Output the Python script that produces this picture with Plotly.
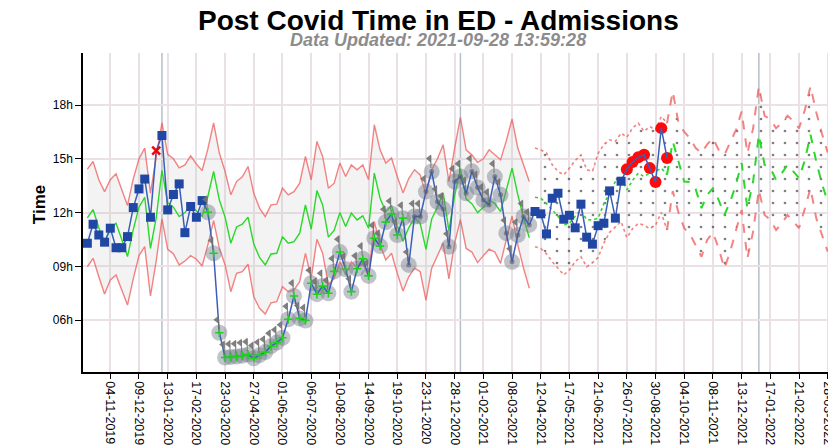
import pandas as pd
import plotly.graph_objects as go

# ---------------- data (hours) ----------------
start_week = "2019-10-07"
n_weeks = 130

actual = [
    10.29, 11.35, 10.75, 10.35, 11.13, 10.04, 10.04, 10.66, 12.28, 13.32,
    13.87, 11.74, 15.46, 16.30, 12.15, 13.01, 13.60, 10.88, 12.34, 11.74,
    12.67, 12.02, 9.73, 5.30, 3.92, 3.95, 3.97, 4.02, 4.08, 3.87,
    4.05, 4.22, 4.55, 4.75, 5.02, 6.05, 7.35, 6.10, 5.98, 8.06,
    7.45, 7.90, 7.50, 8.72, 9.80, 8.84, 7.59, 8.87, 9.42, 8.47,
    10.57, 10.13, 11.47, 11.93, 10.75, 11.69, 9.08, 11.78, 11.78, 13.17,
    14.29, 12.60, 12.20, 10.10, 13.73, 14.01, 13.08, 14.30, 13.40, 12.70,
    12.43, 14.01, 12.99, 10.85, 9.26, 10.75, 11.78, 11.31, 12.06, 11.93,
    10.81, 12.80, 13.08, 11.63, 11.85, 11.15, 12.47, 10.63, 10.24, 11.27,
    11.41, 13.21, 11.69, 13.75, 14.42, 14.82, 15.08, 15.22, 14.48, 13.70,
    16.71, 15.05]

# n = normal, x = flagged single, g = run (below), h = run (other), r = above limit
status = ("nnnnnnnnnnnnxnnnnnnnn"
          "ggggggggggggggggggggggggggggggggggg"
          "hhhhhhhhhhhhhhhhhhhhhh"
          "nnnnnnnnnnnnnnnn"
          "rrrrrrrr")

mean = [
    11.7, 12.17, 11.15, 10.35, 11.1, 11.4, 10.5, 9.55, 11.05, 12.3,
    12.85, 10.0, 11.7, 14.35, 12.55, 12.3, 11.78, 12.0, 12.4, 12.1,
    11.8, 12.9, 14.3, 12.7, 11.75, 10.29, 11.2, 11.35, 11.75, 10.25,
    9.5, 9.08, 9.69, 9.73, 10.65, 10.29, 10.38, 10.85, 12.43, 11.07,
    13.23, 12.43, 10.63, 11.0, 12.0, 11.22, 11.97, 11.59, 11.82, 11.13,
    14.2, 12.8, 12.05, 12.4, 11.3, 10.4, 11.15, 11.7, 11.4, 9.95,
    11.65, 12.3, 13.1, 11.0, 12.95, 14.45, 12.75, 12.5, 12.0, 12.3,
    12.7, 12.5, 12.05, 13.25, 14.48, 13.0, 11.7, 10.6,
    12.86, 12.8, 12.5, 12.15, 11.8, 11.3, 11.4, 11.8, 12.15, 11.6,
    11.59, 11.69, 12.5, 13.08, 13.73, 14.01, 13.27, 13.8, 14.2, 14.01,
    14.2, 14.3, 14.48, 14.11, 15.97, 14.85, 13.73, 13.7, 13.3, 12.25,
    12.99, 13.36, 12.7, 11.87, 12.6, 13.55, 14.76, 12.25, 13.73, 16.34,
    14.66, 14.48, 13.83, 14.2, 14.66, 14.3, 13.92, 14.9, 16.34, 14.85,
    13.6, 12.61]

upper = [
    14.42, 14.85, 13.83, 13.17, 13.83, 14.16, 13.27, 12.4, 13.88, 15.0,
    15.6, 13.08, 15.1, 17.0, 15.25, 15.0, 14.5, 14.66, 15.17, 14.7,
    14.35, 15.55, 17.0, 15.32, 14.29, 12.99, 13.73, 14.0, 14.57, 13.08,
    12.25, 11.78, 12.43, 12.47, 13.36, 12.99, 13.17, 13.64, 15.13, 13.83,
    15.97, 15.13, 13.36, 13.64, 14.76, 14.01, 14.66, 14.39, 14.66, 13.83,
    16.9, 15.5, 14.76, 15.04, 14.01, 13.1, 13.9, 14.39, 14.1, 13.0,
    14.39, 15.0, 15.78, 13.73, 15.6, 17.31, 15.5, 15.22, 14.8, 15.0,
    15.5, 15.2, 14.94, 16.0, 17.22, 15.6, 14.6, 13.73,
    15.6, 15.5, 15.32, 14.66, 14.3, 14.1, 14.48, 14.9, 15.22, 14.39,
    14.29, 15.3, 15.8, 16.06, 15.97, 16.43, 16.2, 16.71, 16.99, 16.53,
    16.8, 16.6, 17.36, 16.99, 18.76, 16.99, 16.5, 16.15, 15.6, 15.32,
    15.8, 16.15, 15.5, 15.22, 15.9, 16.6, 17.64, 15.3, 16.7, 19.04,
    17.4, 17.2, 16.7, 17.0, 17.4, 17.1, 16.7, 17.7, 19.04, 17.6,
    16.4, 15.35]

lower = [
    8.98, 9.45, 8.42, 7.46, 8.24, 8.52, 7.68, 6.84, 8.3, 9.6,
    10.1, 7.35, 9.3, 11.65, 9.95, 9.7, 9.08, 9.3, 9.6, 9.4,
    9.02, 10.2, 11.55, 10.01, 9.08, 7.59, 8.61, 8.7, 9.12, 7.31,
    6.66, 6.34, 6.97, 7.03, 7.87, 7.59, 7.68, 8.15, 9.73, 8.33,
    10.51, 9.73, 7.96, 8.33, 9.26, 8.52, 9.26, 8.89, 9.17, 8.42,
    11.5, 10.2, 9.36, 9.73, 8.61, 7.63, 8.42, 8.9, 8.7, 7.1,
    8.9, 9.6, 10.3, 8.3, 10.3, 11.6, 10.0, 9.8, 9.21, 9.6,
    9.96, 9.8, 9.17, 10.5, 11.8, 10.2, 8.9, 7.78,
    10.1, 10.0, 9.7, 9.26, 8.9, 8.52, 8.8, 9.26, 9.54, 8.98,
    9.2, 9.5, 10.3, 10.9, 11.2, 11.5, 10.6, 11.1, 11.4, 11.3,
    11.1, 11.3, 12.0, 11.03, 13.2, 12.0, 11.13, 10.8, 10.2, 9.54,
    10.47, 10.9, 10.0, 8.89, 9.82, 11.0, 12.15, 9.45, 10.94, 13.27,
    11.87, 11.6, 11.03, 11.4, 11.87, 11.5, 11.13, 12.2, 13.36, 11.69,
    10.7, 9.82]

history_end = 78      # weeks 0..77 use the historical limits
forecast_join = 101   # dotted -> dashed change-over

tick_labels = ["04-11-2019", "09-12-2019", "13-01-2020", "17-02-2020", "23-03-2020",
               "27-04-2020", "01-06-2020", "06-07-2020", "10-08-2020", "14-09-2020",
               "19-10-2020", "23-11-2020", "28-12-2020", "01-02-2021", "08-03-2021",
               "12-04-2021", "17-05-2021", "21-06-2021", "26-07-2021", "30-08-2021",
               "04-10-2021", "08-11-2021", "13-12-2021", "17-01-2022", "21-02-2022",
               "28-03-2022"]
y_ticks = [6, 9, 12, 15, 18]
y_tick_labels = ["06h", "09h", "12h", "15h", "18h"]
year_markers = ["2020-01-06", "2021-01-04", "2022-01-03"]

title_text = "Post Covid Time in ED - Admissions"
subtitle_text = "Data Updated: 2021-09-28 13:59:28"

# ---------------- build ----------------
weeks = pd.date_range(start_week, periods=n_weeks, freq="7D")
wa = weeks[:len(actual)]
tick_vals = pd.to_datetime(tick_labels, format="%d-%m-%Y")

RED = "rgba(240,90,90,0.75)"
GREEN = "#2ad82a"
FONT = "Liberation Sans"

def sel(codes):
    idx = [i for i, c in enumerate(status) if c in codes]
    return [wa[i] for i in idx], [actual[i] for i in idx]

fig = go.Figure()
h = slice(0, history_end)
f = slice(history_end, n_weeks)
fd = slice(history_end, forecast_join + 1)
fs = slice(forecast_join, n_weeks)

# grey control band
fig.add_trace(go.Scatter(x=weeks[h], y=lower[h], mode="lines", line=dict(width=0)))
fig.add_trace(go.Scatter(x=weeks[h], y=upper[h], mode="lines", line=dict(width=0),
                         fill="tonexty", fillcolor="rgba(200,200,200,0.22)"))
# dotted forecast band
fig.add_trace(go.Scatter(x=weeks[f], y=lower[f], mode="lines", line=dict(width=0)))
fig.add_trace(go.Scatter(x=weeks[f], y=upper[f], mode="lines", line=dict(width=0),
                         fill="tonexty", fillcolor="rgba(0,0,0,0)",
                         fillpattern=dict(shape=".", fgcolor="black",
                                          bgcolor="rgba(0,0,0,0)", size=12,
                                          solidity=0.04)))

# limit & mean lines
for ys, col in ((upper, RED), (lower, RED), (mean, GREEN)):
    fig.add_trace(go.Scatter(x=weeks[h], y=ys[h], mode="lines",
                             line=dict(color=col, width=1.4)))
    fig.add_trace(go.Scatter(x=weeks[fd], y=ys[fd], mode="lines",
                             line=dict(color=col, width=1.6, dash="dot")))
    fig.add_trace(go.Scatter(x=weeks[fs], y=ys[fs], mode="lines",
                             line=dict(color=col, width=2, dash="dash")))

# grey run circles
gx, gy = sel("gh")
fig.add_trace(go.Scatter(x=gx, y=gy, mode="markers",
                         marker=dict(symbol="circle", size=16,
                                     color="rgba(115,125,138,0.45)")))
# red high circles
rx, ry = sel("r")
fig.add_trace(go.Scatter(x=rx, y=ry, mode="markers",
                         marker=dict(symbol="circle", size=12, color="#ff0a0a")))

# actual line
fig.add_trace(go.Scatter(x=wa, y=actual, mode="lines",
                         line=dict(color="#3b5fb8", width=1.5)))

# squares
nx, ny = sel("n")
fig.add_trace(go.Scatter(x=nx, y=ny, mode="markers",
                         marker=dict(symbol="square", size=9, color="#1f47a3")))
# red x
xx, xy = sel("x")
fig.add_trace(go.Scatter(x=xx, y=xy, mode="markers",
                         marker=dict(symbol="x-thin", size=8, color="red",
                                     line=dict(color="red", width=2.5))))
# green plus in run circles
px_, py_ = sel("g")
fig.add_trace(go.Scatter(x=px_, y=py_, mode="markers",
                         marker=dict(symbol="cross-thin", size=6,
                                     line=dict(color="#20d020", width=1.6))))
hx, hy = sel("h")
fig.add_trace(go.Scatter(x=hx, y=hy, mode="markers",
                         marker=dict(symbol="circle", size=5,
                                     color="rgba(90,95,105,0.6)")))

# flags on run points
fx = [d - pd.Timedelta(days=3) for d in gx]
fy = [v + 0.72 for v in gy]
polex = [d - pd.Timedelta(days=1) for d in gx]
poley = [v + 0.55 for v in gy]
fig.add_trace(go.Scatter(x=polex, y=poley, mode="markers",
                         marker=dict(symbol="line-ns", size=9,
                                     line=dict(color="rgba(110,110,110,0.9)", width=1))))
fig.add_trace(go.Scatter(x=fx, y=fy, mode="markers",
                         marker=dict(symbol="triangle-left", size=7,
                                     color="rgba(115,115,115,0.9)")))

shapes = [dict(type="line", xref="x", yref="paper", x0=d, x1=d, y0=0, y1=1,
               line=dict(color="#b7bec8", width=1.5), layer="between")
          for d in year_markers]

fig.update_traces(showlegend=False, hoverinfo="skip")

# the page body adds an 8px offset at top/left, so the figure is 8px smaller
grid = "#e9e1e5"
fig.update_layout(
    width=828, height=437,
    margin=dict(l=75, r=5, t=45, b=73, pad=0, autoexpand=False),
    paper_bgcolor="white", plot_bgcolor="white",
    font=dict(family=FONT, color="black"),
    shapes=shapes,
    xaxis=dict(type="date", range=["2019-10-01 17:00", "2022-04-01 00:00"],
               tickvals=tick_vals, ticktext=tick_labels, tickangle=90,
               tickfont=dict(size=12.5, family=FONT, color="black"),
               showgrid=True, gridcolor=grid, gridwidth=1.5, automargin=False,
               ticklabeloverflow="allow",
               showline=True, linecolor="black", linewidth=1.5,
               ticks="outside", ticklen=5, tickcolor="black", zeroline=False),
    yaxis=dict(range=[3.11, 20.9], tickvals=y_ticks, ticktext=y_tick_labels,
               tickfont=dict(size=12, family=FONT, color="black"),
               showgrid=True, gridcolor=grid, gridwidth=1.5, automargin=False,
               showline=True, linecolor="black", linewidth=1.5,
               ticks="outside", ticklen=6, tickcolor="black", zeroline=False),
    annotations=[
        dict(text="<b>" + title_text + "</b>", xref="paper", yref="paper",
             x=(438 - 83) / 748, y=1.103, xanchor="center", yanchor="middle",
             showarrow=False, font=dict(size=28, family=FONT, color="black")),
        dict(text="<b><i>" + subtitle_text + "</i></b>", xref="paper", yref="paper",
             x=(438 - 83) / 748, y=1.040, xanchor="center", yanchor="middle",
             showarrow=False, font=dict(size=18, family=FONT, color="#8c8c8c")),
        dict(text="<b>Time</b>", xref="paper", yref="paper",
             x=(39 - 83) / 748, y=0.523, xanchor="center", yanchor="middle",
             textangle=-90, showarrow=False,
             font=dict(size=17, family=FONT, color="black")),
    ],
)

fig.write_html("out.html")
